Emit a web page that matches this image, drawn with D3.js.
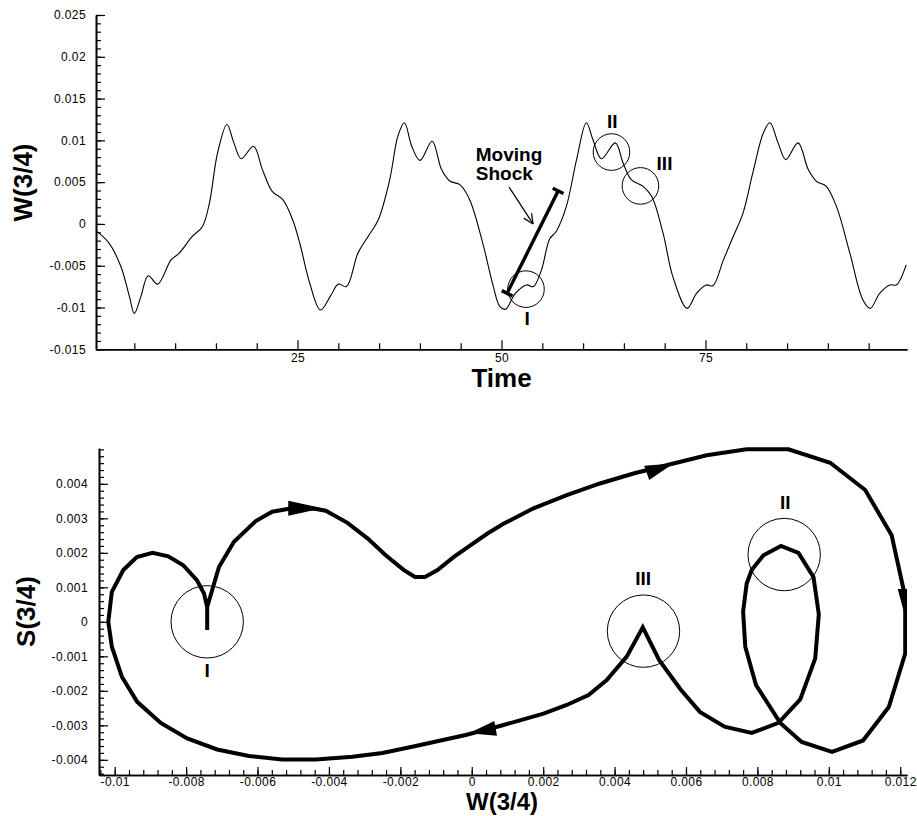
<!DOCTYPE html>
<html><head><meta charset="utf-8">
<script src="https://cdn.jsdelivr.net/npm/d3@7"></script>
<style>
body{margin:0;background:#fff;}
svg text{font-family:"Liberation Sans",Arial,Helvetica,sans-serif;fill:#000;}
</style>
</head><body>
<svg id="c" width="917" height="816"></svg>
<script>
// ---------------- DATA: top chart W(3/4) vs Time ----------------
const timeVals = [0.3,1.9,3.35,4.4,5.0,5.8,6.7,7.85,9.5,10.5,12.1,13.35,14.2,15.2,16.35,17.2,18.1,19.6,20.7,21.9,23.2,24.4,
  25.3,26.5,27.8,29.0,30.0,31.0,32.4,33.65,34.9,36.3,37.3,38.1,39.0,40.0,41.5,42.65,43.7,44.9,46.1,47.7,49.0,49.8,
  50.5,51.7,53.1,53.9,54.9,55.9,56.7,57.95,59.2,60.4,61.2,62.25,63.95,64.9,65.9,67.35,68.4,69.8,71.0,72.75,
  73.9,75.1,75.9,77.2,78.4,79.6,80.8,82.1,82.9,83.9,84.85,86.35,87.6,88.6,89.8,91.05,92.7,94.3,95.2,96.35,97.6,98.4,99.6];
const wVals = [-0.0008,-0.0023,-0.0051,-0.0087,-0.0107,-0.0087,-0.0062,-0.0072,-0.0043,-0.0035,-0.0015,-0.0003,0.0025,0.0085,0.0119,0.0097,0.0078,0.0093,0.0065,0.0039,0.0029,0.0005,
  -0.0024,-0.0071,-0.0103,-0.0087,-0.0072,-0.0075,-0.0035,-0.0015,0.0005,0.0053,0.0105,0.0121,0.0093,0.0076,0.0099,0.0065,0.0051,0.0047,0.0029,-0.0023,-0.0075,-0.0099,
  -0.0102,-0.0083,-0.0073,-0.0075,-0.0055,-0.0018,-0.0009,0.0021,0.0077,0.0121,0.0101,0.0078,0.0097,0.0073,0.0053,0.0045,0.0033,-0.0011,-0.0063,-0.0101,
  -0.0083,-0.0073,-0.0074,-0.0043,-0.0015,0.0013,0.0061,0.0109,0.0121,0.0097,0.0077,0.0097,0.0065,0.0051,0.0045,0.0021,-0.0035,-0.0091,-0.0101,-0.0083,-0.0073,-0.0073,-0.0049];
const timeTicks = [25, 50, 75];
const timeMinorTicks = [5,10,15,20,30,35,40,45,55,60,65,70,80,85,90,95];
const wTicks = [-0.015,-0.01,-0.005,0,0.005,0.01,0.015,0.02,0.025];

// ---------------- DATA: bottom chart S(3/4) vs W(3/4) ----------------
const phaseW = [-0.00741,-0.00741,-0.00708,-0.00666,-0.00605,-0.00559,-0.00500,-0.00440,-0.00409,-0.00348,-0.00292,-0.00241,-0.00190,-0.00159,-0.00131,-0.00096,-0.00050,-0.00008,0.00044,0.00090,
  0.00173,0.00266,0.00359,0.00453,0.00565,0.00658,0.00770,0.00887,0.01004,0.01102,0.01176,0.01214,0.01214,0.01168,0.01096,0.01009,0.00924,0.00864,0.00796,0.00766,0.00760,
  0.00770,0.00784,0.00817,0.00866,0.00915,0.00957,0.00972,0.00962,0.00920,0.00859,0.00784,0.00708,0.00639,0.00585,0.00525,0.00479,0.00434,0.00378,0.00327,0.00266,0.00201,
  0.00079,-0.00017,-0.00157,-0.00250,-0.00334,-0.00437,-0.00531,-0.00624,-0.00713,-0.00797,-0.00871,-0.00937,-0.00980,-0.01008,-0.01018,-0.01008,-0.00976,-0.00938,-0.00894,
  -0.00850,-0.00808,-0.00770,-0.00750,-0.00741,-0.00741];
const phaseS = [-0.00024,0.00043,0.00159,0.00232,0.00292,0.00319,0.00330,0.00328,0.00322,0.00287,0.00242,0.00193,0.00150,0.00130,0.00130,0.00150,0.00188,0.00219,0.00256,0.00285,
  0.00329,0.00367,0.00401,0.00430,0.00459,0.00483,0.00500,0.00500,0.00461,0.00382,0.00251,0.00072,-0.00092,-0.00247,-0.00344,-0.00377,-0.00348,-0.00293,-0.00183,-0.00072,0.00030,
  0.00111,0.00150,0.00193,0.00220,0.00200,0.00130,0.00022,-0.00106,-0.00225,-0.00293,-0.00322,-0.00304,-0.00261,-0.00196,-0.00111,-0.00016,-0.00101,-0.00169,-0.00212,-0.00241,-0.00266,
  -0.00302,-0.00328,-0.00360,-0.00380,-0.00391,-0.00399,-0.00399,-0.00389,-0.00370,-0.00338,-0.00293,-0.00232,-0.00159,-0.00072,0.00000,0.00087,0.00150,0.00188,0.00200,
  0.00190,0.00164,0.00121,0.00082,0.00043,-0.00024];
const phaseWTicks = [-0.01,-0.008,-0.006,-0.004,-0.002,0,0.002,0.004,0.006,0.008,0.01,0.012];
const phaseSTicks = [-0.004,-0.003,-0.002,-0.001,0,0.001,0.002,0.003,0.004];

// annotations (data coordinates)
const topCircles = [[53.0,-0.0078],[63.48,0.0086],[67.03,0.00455]];
const topLabels = [["I",53.14,-0.0121],["II",63.58,0.01146],["III",69.98,0.00647]];
const shockBar = [[50.69,-0.0083],[56.94,0.00395]];
const shockArrow = [[50.93,0.0044],[53.87,0.0]];
const shockText = [46.85, 0.00755];
const botCircles = [[-0.00741,0.0],[0.00875,0.00195],[0.00481,-0.00027]];
const botLabels = [["I",-0.00741,-0.00159],["II",0.00878,0.00327],["III",0.00480,0.00106]];
const botArrows = [[[-0.00514,0.00329],[-0.00418,0.00329]],[[0.00490,0.00432],[0.00565,0.00459]],
                   [[0.01214,0.00095],[0.01214,0.00014]],[[0.00067,-0.00309],[-0.00008,-0.00323]]];

// ---------------- DRAW ----------------
const svg = d3.select("#c");
const fmt = d => String(+d.toFixed(6));

function styleAxis(g){
  g.select(".domain").attr("stroke","#000").attr("stroke-width",1.6);
  g.selectAll(".tick line").attr("stroke","#000").attr("stroke-width",1.2);
  g.selectAll(".tick text").style("font-size","12px").style("letter-spacing","0.4px").attr("fill","#000");
}

// ===== Top chart =====
const x1 = d3.scaleLinear().domain([0.3, 99.7]).range([96, 907]);
const y1 = d3.scaleLinear().domain([-0.015, 0.025]).range([349.3, 15]);

const gx1m = svg.append("g").attr("transform","translate(0,349.3)")
  .call(d3.axisBottom(x1).tickValues(timeMinorTicks).tickSize(-6).tickSizeOuter(0).tickFormat(""));
styleAxis(gx1m);
const gx1 = svg.append("g").attr("transform","translate(0,349.3)")
  .call(d3.axisBottom(x1).tickValues(timeTicks).tickSize(-9).tickSizeOuter(0).tickPadding(4).tickFormat(d3.format("d")));
styleAxis(gx1);
const wMinor = d3.range(-15, 26).map(v => v/1000);
const gy1m = svg.append("g").attr("transform","translate(96,0)")
  .call(d3.axisLeft(y1).tickValues(wMinor).tickSize(-5).tickSizeOuter(0).tickFormat(""));
styleAxis(gy1m);
const gy1 = svg.append("g").attr("transform","translate(96,0)")
  .call(d3.axisLeft(y1).tickValues(wTicks).tickSize(-9).tickSizeOuter(0).tickPadding(10).tickFormat(fmt));
styleAxis(gy1);

const topData = timeVals.map((t,i)=>[t,wVals[i]]);
svg.append("path").datum(topData)
  .attr("fill","none").attr("stroke","#000").attr("stroke-width",1.1)
  .attr("d", d3.line().x(d=>x1(d[0])).y(d=>y1(d[1])).curve(d3.curveCatmullRom.alpha(0.5)));

svg.selectAll(".tc").data(topCircles).enter().append("circle")
  .attr("cx",d=>x1(d[0])).attr("cy",d=>y1(d[1])).attr("r",18.3)
  .attr("fill","none").attr("stroke","#000").attr("stroke-width",1);
svg.selectAll(".tl").data(topLabels).enter().append("text")
  .attr("x",d=>x1(d[1])).attr("y",d=>y1(d[2])).attr("text-anchor","middle")
  .style("font-size","19px").style("font-weight","bold").text(d=>d[0]);

// moving shock bar with end caps
(function(){
  const a=[x1(shockBar[0][0]),y1(shockBar[0][1])], b=[x1(shockBar[1][0]),y1(shockBar[1][1])];
  const dx=b[0]-a[0], dy=b[1]-a[1], L=Math.hypot(dx,dy), nx=-dy/L, ny=dx/L, h=6;
  const g=svg.append("g").attr("stroke","#000").attr("stroke-width",3.4);
  g.append("line").attr("x1",a[0]).attr("y1",a[1]).attr("x2",b[0]).attr("y2",b[1]);
  [a,b].forEach(p=>g.append("line").attr("x1",p[0]+nx*h).attr("y1",p[1]+ny*h).attr("x2",p[0]-nx*h).attr("y2",p[1]-ny*h));
  // pointer arrow
  const s=[x1(shockArrow[0][0]),y1(shockArrow[0][1])], e=[x1(shockArrow[1][0]),y1(shockArrow[1][1])];
  const ux=(e[0]-s[0]), uy=(e[1]-s[1]), ul=Math.hypot(ux,uy), cx=ux/ul, cy=uy/ul;
  const ga=svg.append("g").attr("stroke","#000").attr("stroke-width",1.2).attr("fill","none");
  ga.append("line").attr("x1",s[0]).attr("y1",s[1]).attr("x2",e[0]).attr("y2",e[1]);
  [25,-25].forEach(ang=>{
    const r=ang*Math.PI/180, bx=-cx, by=-cy;
    const rx=bx*Math.cos(r)-by*Math.sin(r), ry=bx*Math.sin(r)+by*Math.cos(r);
    ga.append("line").attr("x1",e[0]).attr("y1",e[1]).attr("x2",e[0]+rx*11).attr("y2",e[1]+ry*11);
  });
  svg.append("text").attr("x",x1(shockText[0])).attr("y",y1(shockText[1]))
    .style("font-size","19px").style("font-weight","bold").text("Moving");
  svg.append("text").attr("x",x1(shockText[0])).attr("y",y1(shockText[1])+19)
    .style("font-size","19px").style("font-weight","bold").text("Shock");
})();

svg.append("text").attr("transform","translate(31.5,182.5) rotate(-90)").attr("text-anchor","middle")
  .style("font-size","26px").style("font-weight","bold").text("W(3/4)");
svg.append("text").attr("x",501.5).attr("y",387).attr("text-anchor","middle")
  .style("font-size","26px").style("font-weight","bold").text("Time");

// ===== Bottom chart =====
const x2 = d3.scaleLinear().domain([-0.01044, 0.01219]).range([99, 907]);
const y2 = d3.scaleLinear().domain([-0.00444, 0.00503]).range([775, 448.3]);

const pwMinor = d3.range(-26, 31).map(v => v*0.0004).filter(v => v>=-0.01044 && v<=0.01219);
const gx2m = svg.append("g").attr("transform","translate(0,775)")
  .call(d3.axisBottom(x2).tickValues(pwMinor).tickSize(-5).tickSizeOuter(0).tickFormat(""));
styleAxis(gx2m);
const gx2 = svg.append("g").attr("transform","translate(0,775)")
  .call(d3.axisBottom(x2).tickValues(phaseWTicks).tickSize(-8).tickSizeOuter(0).tickPadding(2).tickFormat(fmt));
styleAxis(gx2);
const psMinor = d3.range(-22, 26).map(v => v*0.0002).filter(v => v>=-0.00444 && v<=0.00503);
const gy2m = svg.append("g").attr("transform","translate(99,0)")
  .call(d3.axisLeft(y2).tickValues(psMinor).tickSize(-5).tickSizeOuter(0).tickFormat(""));
styleAxis(gy2m);
const gy2 = svg.append("g").attr("transform","translate(99,0)")
  .call(d3.axisLeft(y2).tickValues(phaseSTicks).tickSize(-9).tickSizeOuter(0).tickPadding(11).tickFormat(fmt));
styleAxis(gy2);

svg.append("clipPath").attr("id","clip2").append("rect").attr("x",99).attr("y",440).attr("width",808).attr("height",335);
const plot2 = svg.append("g").attr("clip-path","url(#clip2)");
const phaseData = phaseW.map((w,i)=>[w,phaseS[i]]);
plot2.append("path").datum(phaseData)
  .attr("fill","none").attr("stroke","#000").attr("stroke-width",4).attr("stroke-linejoin","miter").attr("stroke-miterlimit",3)
  .attr("d", d3.line().x(d=>x2(d[0])).y(d=>y2(d[1])).curve(d3.curveLinear));
botArrows.forEach(([tl,tp])=>{
  const a=[x2(tl[0]),y2(tl[1])], b=[x2(tp[0]),y2(tp[1])];
  const dx=b[0]-a[0], dy=b[1]-a[1], L=Math.hypot(dx,dy), nx=-dy/L, ny=dx/L, hw=7.5;
  plot2.append("path").attr("fill","#000").attr("stroke","none")
    .attr("d",`M${b[0]},${b[1]}L${a[0]+nx*hw},${a[1]+ny*hw}L${a[0]-nx*hw},${a[1]-ny*hw}Z`);
});
svg.selectAll(".bc").data(botCircles).enter().append("circle")
  .attr("cx",d=>x2(d[0])).attr("cy",d=>y2(d[1])).attr("r",36.2)
  .attr("fill","none").attr("stroke","#000").attr("stroke-width",1);
svg.selectAll(".bl").data(botLabels).enter().append("text")
  .attr("x",d=>x2(d[1])).attr("y",d=>y2(d[2])).attr("text-anchor","middle")
  .style("font-size","19px").style("font-weight","bold").text(d=>d[0]);

svg.append("text").attr("transform","translate(34.5,611.5) rotate(-90)").attr("text-anchor","middle")
  .style("font-size","26px").style("font-weight","bold").text("S(3/4)");
svg.append("text").attr("x",502).attr("y",810).attr("text-anchor","middle")
  .style("font-size","24px").style("font-weight","bold").text("W(3/4)");
</script>
</body></html>
